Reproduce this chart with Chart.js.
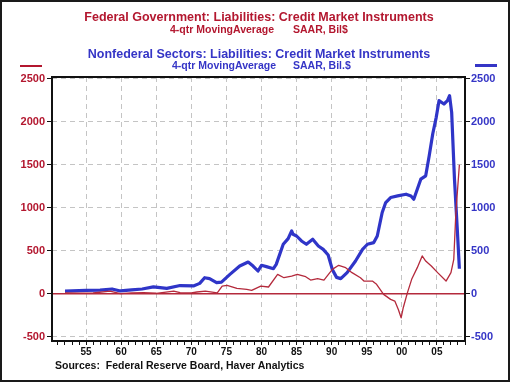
<!DOCTYPE html>
<html><head><meta charset="utf-8">
<script src="https://cdn.jsdelivr.net/npm/chart.js@4"></script>
<style>
html,body{margin:0;padding:0;background:#fff;}
#wrap{position:relative;width:510px;height:382px;overflow:hidden;font-family:"Liberation Sans",Arial,sans-serif;font-weight:bold;background:#fff;}
canvas{position:absolute;left:0;top:0;}
.t{position:absolute;white-space:pre;line-height:1;}
.c{left:0;width:518px;text-align:center;}
.frame{position:absolute;left:0;top:0;width:510px;height:382px;box-sizing:border-box;border:2px solid #1a1a1a;pointer-events:none;}
.mk{position:absolute;}
</style></head><body>
<div id="wrap">
<canvas id="c" width="510" height="382"></canvas>
<div class="t c" style="top:10.6px;font-size:12.5px;color:#b3172f;">Federal Government: Liabilities: Credit Market Instruments</div>
<div class="t" style="left:170px;top:23.9px;font-size:10.5px;color:#b3172f;">4-qtr MovingAverage</div>
<div class="t" style="left:293px;top:23.9px;font-size:10.5px;color:#b3172f;">SAAR, Bil$</div>
<div class="t c" style="top:48.4px;font-size:12.5px;color:#3535c6;">Nonfederal Sectors: Liabilities: Credit Market Instruments</div>
<div class="t" style="left:172px;top:60.2px;font-size:10.5px;color:#3535c6;">4-qtr MovingAverage</div>
<div class="t" style="left:293px;top:60.2px;font-size:10.5px;color:#3535c6;">SAAR, Bil.$</div>
<div class="mk" style="left:20px;top:65px;width:22px;height:1.5px;background:#b3172f;"></div>
<div class="mk" style="left:475px;top:64px;width:22px;height:3px;background:#3535c6;"></div>
<div class="t" style="left:55px;top:359.9px;font-size:10.5px;color:#111;">Sources:  Federal Reserve Board, Haver Analytics</div>
<div class="frame"></div>
</div>
<script>
// Federal Government (red, left axis), Bil$
const redYears = [1952,1954,1956,1958.4,1959.9,1961.5,1963.2,1965,1967.5,1968.4,1970,1970.8,1972,1973.7,1974.4,1975.1,1976.5,1977.9,1978.6,1979.9,1981,1982.3,1983.2,1984.3,1985.1,1986.3,1987,1988,1988.9,1990.1,1991,1992,1992.9,1994.1,1994.6,1995.8,1996.4,1997.4,1998.4,1999,1999.5,1999.9,2000.2,2000.8,2001.4,2002.2,2002.9,2003.4,2004.2,2005.1,2006.3,2007,2007.4,2007.7,2008.2];
const redValues = [10,5,8,30,0,10,12,5,30,12,10,20,30,10,89,97,62,50,39,89,78,225,186,205,225,198,159,175,159,283,330,303,245,186,147,147,109,-8,-66,-86,-183,-280,-163,12,167,303,439,380,322,245,147,245,400,944,1500];
// Nonfederal Sectors (blue, right axis), Bil.$
const blueYears = [1952,1953,1955,1957,1958.7,1959.9,1961.5,1963,1964.6,1966.5,1968.4,1970.3,1971.2,1971.9,1972.6,1973.6,1974.3,1975.5,1976.9,1978.1,1978.8,1979.5,1980,1980.7,1981.7,1982.1,1983.1,1983.8,1984.3,1984.5,1985,1985.7,1986.4,1987.3,1988.1,1988.8,1989.5,1990.1,1990.7,1991.3,1992.2,1993.4,1994.4,1995.1,1996,1996.5,1997.2,1997.7,1998.4,1999.4,2000.6,2001.3,2001.7,2002.2,2002.7,2003.4,2003.9,2004.4,2004.9,2005.3,2006,2006.5,2006.8,2007.1,2007.5,2007.9,2008.2];
const blueValues = [30,32,38,42,55,32,45,55,80,62,95,90,120,186,175,128,135,225,322,368,322,264,330,315,291,341,575,641,730,691,671,613,575,633,555,516,450,280,190,175,245,380,516,575,594,671,944,1060,1118,1137,1157,1137,1099,1215,1332,1371,1604,1857,2051,2245,2206,2245,2303,2109,1332,750,290];
const yTickValues = [-500,0,500,1000,1500,2000,2500];
const xLabelYears = [1955,1960,1965,1970,1975,1980,1985,1990,1995,2000,2005];

const xStart = 1950.15, xEnd = 2009, yMin = -550, yMax = 2520;
const RED = '#b3172f', BLUE = '#3535c6', RED_LINE = '#b42a3c', BLUE_LINE = '#2f35c8', GRID = '#c4c4c4';
const FONT = '"Liberation Sans", Arial, sans-serif';
Chart.defaults.font.family = FONT;

const pts = (xs, ys) => xs.map((x, i) => ({x: x, y: ys[i]}));

const deco = {
  id: 'deco',
  beforeDatasetsDraw(chart) {
    const {ctx, chartArea: a, scales} = chart;
    const py = scales.y.getPixelForValue(0);
    ctx.save();
    ctx.strokeStyle = RED_LINE; ctx.lineWidth = 1.5;
    ctx.beginPath(); ctx.moveTo(a.left, py); ctx.lineTo(a.right, py); ctx.stroke();
    ctx.restore();
  },
  afterDraw(chart) {
    const {ctx, chartArea: a} = chart;
    ctx.save();
    ctx.strokeStyle = '#111'; ctx.lineWidth = 2;
    ctx.strokeRect(a.left, a.top, a.right - a.left, a.bottom - a.top);
    ctx.restore();
  }
};

new Chart(document.getElementById('c'), {
  type: 'line',
  data: {
    datasets: [
      {data: pts(redYears, redValues), borderColor: RED_LINE, borderWidth: 1.3, pointRadius: 0, tension: 0, yAxisID: 'y', borderJoinStyle: 'round'},
      {data: pts(blueYears, blueValues), borderColor: BLUE_LINE, borderWidth: 3.2, pointRadius: 0, tension: 0, yAxisID: 'y2', borderJoinStyle: 'round'}
    ]
  },
  options: {
    responsive: false, animation: false, devicePixelRatio: 1,
    layout: {padding: {top: 77, left: 0, right: 0, bottom: 0}},
    plugins: {legend: {display: false}, tooltip: {enabled: false}, title: {display: false}},
    scales: {
      x: {
        type: 'linear', min: xStart, max: xEnd,
        afterBuildTicks(s) { const t = []; for (let v = Math.ceil(xStart); v <= Math.floor(xEnd); v++) t.push({value: v}); s.ticks = t; },
        afterFit(s) { s.height = 41; },
        grid: {color: c => (c.tick && xLabelYears.includes(c.tick.value)) ? GRID : 'rgba(0,0,0,0)', tickColor: '#111', tickLength: 4, lineWidth: 1, tickWidth: 1},
        border: {display: false, dash: [5, 4]},
        ticks: {autoSkip: false, maxRotation: 0, minRotation: 0, padding: 1, color: '#111', font: {size: 10, weight: 'bold'},
          callback: v => xLabelYears.includes(v) ? String(v % 100).padStart(2, '0') : ''}
      },
      y: {
        position: 'left', min: yMin, max: yMax,
        afterBuildTicks(s) { s.ticks = yTickValues.map(v => ({value: v})); },
        afterFit(s) { s.width = 52; },
        grid: {color: c => (c.tick && c.tick.value === 0) ? 'rgba(0,0,0,0)' : GRID, tickColor: '#111', tickLength: 5, lineWidth: 1},
        border: {display: false, dash: [5, 4]},
        ticks: {color: RED, padding: 2, font: {size: 11, weight: 'bold'}, callback: v => String(v)}
      },
      y2: {
        position: 'right', min: yMin, max: yMax,
        afterBuildTicks(s) { s.ticks = yTickValues.map(v => ({value: v})); },
        afterFit(s) { s.width = 45; },
        grid: {drawOnChartArea: false, tickColor: '#111', tickLength: 5},
        border: {display: false},
        ticks: {color: BLUE, padding: 1, font: {size: 11, weight: 'bold'}, callback: v => String(v)}
      }
    }
  },
  plugins: [deco]
});
</script>
</body></html>
